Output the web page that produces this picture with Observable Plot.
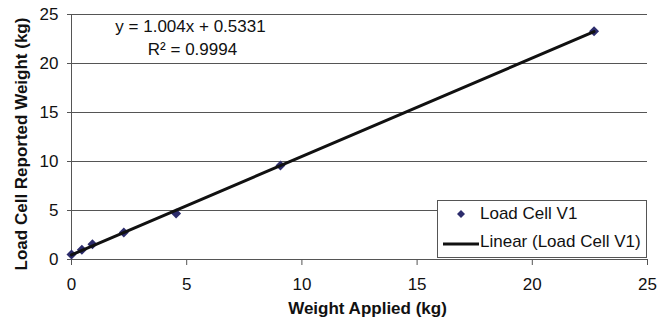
<!DOCTYPE html>
<html><head><meta charset="utf-8">
<script src="https://cdn.jsdelivr.net/npm/d3@7"></script>
<script src="https://cdn.jsdelivr.net/npm/@observablehq/plot@0.6"></script>
<style>
body{margin:0;background:#fff;font-family:"Liberation Sans",Arial,sans-serif;}
#wrap{position:relative;width:667px;height:321px;}
#legend{position:absolute;left:437px;top:200px;width:210px;height:58px;border:1px solid #555;background:#fff;box-sizing:border-box;font-size:17px;color:#111;}
#legend .row{position:absolute;left:0;height:20px;line-height:20px;white-space:nowrap;}
</style></head>
<body><div id="wrap"></div>
<script>
const weightApplied = [0, 0.45, 0.91, 2.27, 4.54, 9.07, 22.68];
const reportedWeight = [0.5, 1.0, 1.55, 2.75, 4.7, 9.6, 23.3];
const xTicks = [0, 5, 10, 15, 20, 25];
const yTicks = [0, 5, 10, 15, 20, 25];
const seriesName = "Load Cell V1";
const trendName = "Linear (Load Cell V1)";
const equationText = "y = 1.004x + 0.5331";
const r2Text = "R\u00b2 = 0.9994";

const data = weightApplied.map((w, i) => ({x: w, y: reportedWeight[i]}));
const font = "Liberation Sans, Arial, sans-serif";

const chart = Plot.plot({
  width: 667, height: 321,
  marginLeft: 71, marginRight: 20, marginTop: 14, marginBottom: 62,
  style: {fontFamily: font, fontSize: "17px", color: "#111", background: "#fff", overflow: "visible"},
  x: {domain: [0, 25]},
  y: {domain: [0, 25]},
  marks: [
    Plot.gridY(yTicks.filter(d => d > 0), {stroke: "#555", strokeOpacity: 1, strokeWidth: 1, x1: -0.17}),
    Plot.ruleY([0], {stroke: "#555", strokeWidth: 1}),
    Plot.ruleX([0], {stroke: "#555", strokeWidth: 1}),
    Plot.axisY({ticks: yTicks, tickSize: 4, tickPadding: 9, label: null, stroke: "#555", fontSize: 17}),
    Plot.axisX({ticks: xTicks, tickSize: 6, tickPadding: 12, label: null, stroke: "#555", fontSize: 17}),
    Plot.text([0], {frameAnchor: "left", text: () => "Load Cell Reported Weight (kg)", rotate: -90, dx: -50, dy: 7, textAnchor: "middle", fontWeight: "bold", fontSize: 17, lineAnchor: "middle", fill: "#111"}),
    Plot.text([0], {frameAnchor: "bottom", text: () => "Weight Applied (kg)", dx: 8, dy: 49, textAnchor: "middle", fontWeight: "bold", fontSize: 17, lineAnchor: "middle", fill: "#111"}),
    Plot.dot(data, {x: "x", y: "y", symbol: "diamond2", r: 4.5, fill: "#2c2c6c", stroke: "none"}),
    Plot.linearRegressionY(data, {x: "x", y: "y", ci: 0, stroke: "#111", strokeWidth: 3}),
    Plot.text([0], {frameAnchor: "top-left", text: () => equationText, dx: 119, dy: 12, lineAnchor: "middle", textAnchor: "middle", fontSize: 17, fill: "#111"}),
    Plot.text([0], {frameAnchor: "top-left", text: () => r2Text, dx: 121, dy: 35, lineAnchor: "middle", textAnchor: "middle", fontSize: 17, fill: "#111"})
  ]
});
const wrap = document.getElementById("wrap");
wrap.appendChild(chart);
const legend = document.createElement("div");
legend.id = "legend";
legend.innerHTML = `
<div class="row" style="top:3px;left:17px;"><svg width="12" height="20" style="vertical-align:top"><path d="M6,6 L10,10 L6,14 L2,10Z" fill="#2c2c6c"/></svg></div>
<div class="row" style="top:3px;left:42px;">${seriesName}</div>
<div class="row" style="top:32px;left:5px;"><svg width="36" height="20" style="vertical-align:top"><line x1="0" y1="11" x2="36" y2="11" stroke="#111" stroke-width="3"/></svg></div>
<div class="row" style="top:31px;left:42px;">${trendName}</div>`;
wrap.appendChild(legend);
</script></body></html>
